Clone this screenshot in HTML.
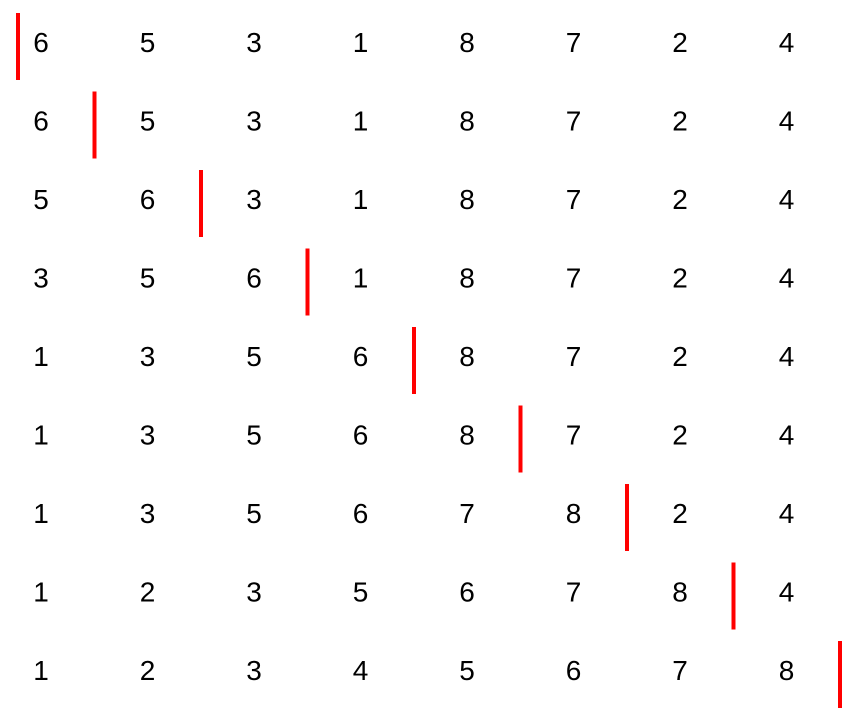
<!DOCTYPE html>
<html><head><meta charset="utf-8">
<style>
html,body{margin:0;padding:0;background:#fff;}
svg{display:block;}
text{font-family:"Liberation Sans",sans-serif;font-size:28px;fill:#000;}
</style></head>
<body>
<svg id="chart" width="865" height="720"></svg>
<script>
const rows = [
  [6,5,3,1,8,7,2,4],
  [6,5,3,1,8,7,2,4],
  [5,6,3,1,8,7,2,4],
  [3,5,6,1,8,7,2,4],
  [1,3,5,6,8,7,2,4],
  [1,3,5,6,8,7,2,4],
  [1,3,5,6,7,8,2,4],
  [1,2,3,5,6,7,8,4],
  [1,2,3,4,5,6,7,8]
];
const markerIndex = [0,1,2,3,4,5,6,7,8];

const svg = document.getElementById('chart');
const NS = 'http://www.w3.org/2000/svg';
function colX(i){ return 41 + 106.5*i; }
function rowY(r){ return 44 + 78.5*r; }
function barX(i){ return Math.max(18, colX(i) - 53); }

rows.forEach((row, r) => {
  const g = document.createElementNS(NS,'g');
  
  
  row.forEach((v, i) => {
    const t = document.createElementNS(NS,'text');
    
    
    t.setAttribute('x', colX(i));
    t.setAttribute('y', rowY(r) + 8);
    t.setAttribute('text-anchor', 'middle');
    t.textContent = v;
    g.appendChild(t);
  });
  const b = document.createElementNS(NS,'rect');
  
  
  b.setAttribute('x', barX(markerIndex[r]) - 2);
  b.setAttribute('y', rowY(r) - 31);
  b.setAttribute('width', 4);
  b.setAttribute('height', 67);
  b.setAttribute('fill', '#ff0000');
  g.appendChild(b);
  svg.appendChild(g);
});
</script>
</body></html>
